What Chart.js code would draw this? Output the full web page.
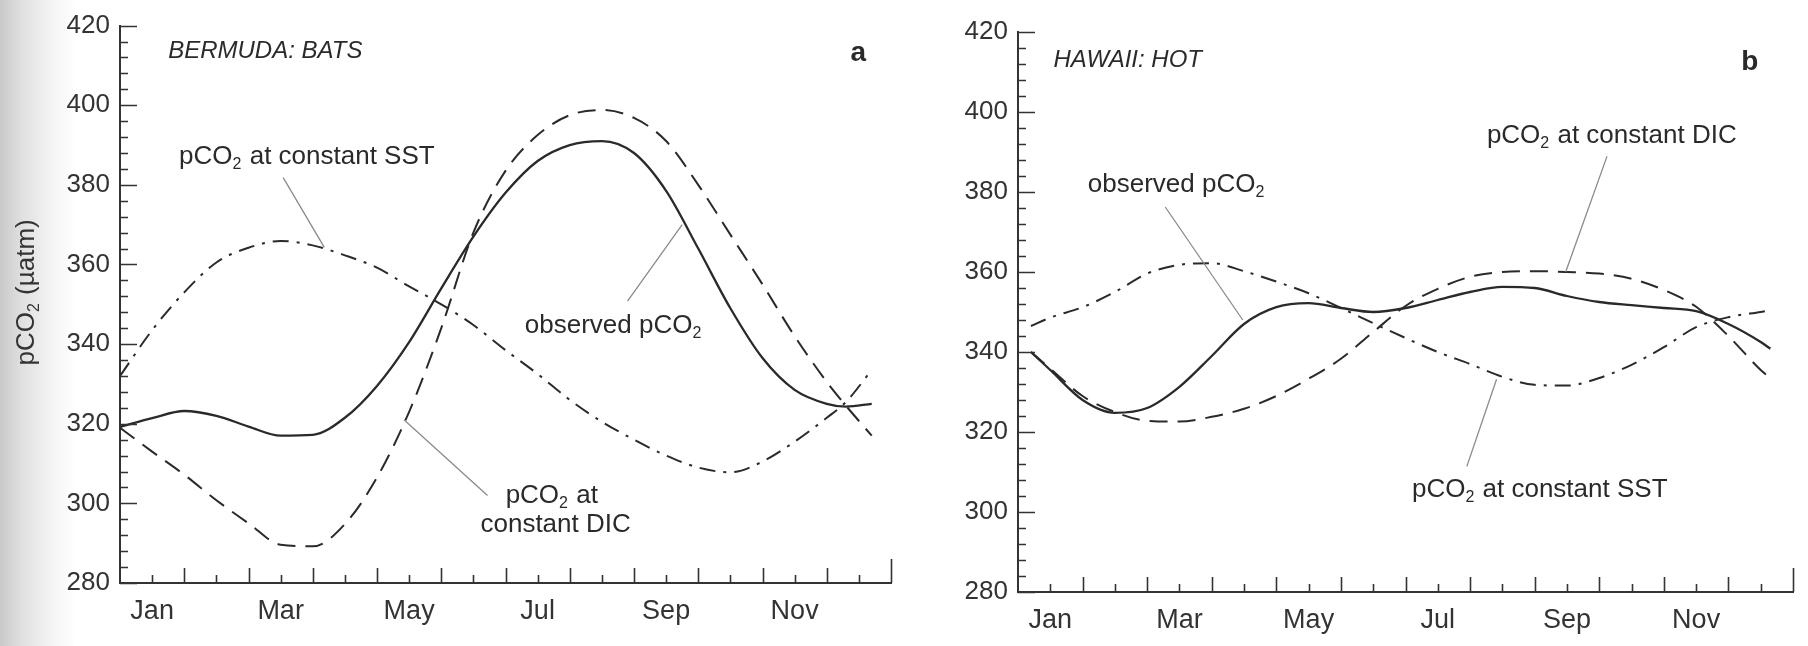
<!DOCTYPE html>
<html>
<head>
<meta charset="utf-8">
<script src="https://cdn.jsdelivr.net/npm/chart.js@4.4.1/dist/chart.umd.min.js"></script>
<style>
  html, body { margin: 0; padding: 0; }
  body {
    width: 1808px; height: 646px; overflow: hidden; position: relative;
    background: linear-gradient(to right, #c9c9c9 0px, #e0e0e0 22px, #f3f3f3 50px, #ffffff 76px);
  }
  canvas { position: absolute; top: 0; }
  #batsChart { left: 0; }
  #hotChart { left: 905px; }
</style>
</head>
<body>
<canvas id="batsChart" width="905" height="646"></canvas>
<canvas id="hotChart" width="903" height="646"></canvas>
<script>
// x is in months since 1 Jan (0 = 1 Jan, 12 = 1 Jan next year)
var monthLabels = ['Jan', 'Mar', 'May', 'Jul', 'Sep', 'Nov'];
var monthLabelPos = [0.5, 2.5, 4.5, 6.5, 8.5, 10.5];

// panel a, Bermuda (BATS)
var batsMonths   = [0, 0.5, 1, 1.5, 2, 2.5, 3, 3.5, 4, 4.5, 5, 5.5, 6, 6.5, 7, 7.5, 8, 8.5, 9, 9.5, 10, 10.5, 11, 11.3, 11.7];
var batsObserved = [319.2, 321.4, 323.2, 322.0, 319.3, 317.0, 317.2, 321.5, 329.5, 340.5, 354, 367, 378, 386, 390, 391, 388, 378.5, 364, 349, 336.5, 328.5, 325, 324.3, 325];
var batsConstDIC = [319, 313, 307.2, 300.8, 295, 289.6, 289.2, 294.8, 306.5, 323, 344, 368, 383.5, 392.5, 397.5, 398.8, 396.8, 391, 380, 367.5, 355, 342, 330.5, 324.5, 317];
var batsConstSST = [332, 343.5, 353, 360.5, 364.2, 365.9, 364.8, 362.3, 359.2, 354.5, 350, 344.8, 338.5, 332.5, 326, 320.5, 316, 312, 309, 307.8, 310.5, 315.5, 321.5, 325.5, 333.5];

// panel b, Hawaii (HOT)
var hotMonths   = [0.2, 0.5, 1, 1.5, 2, 2.5, 3, 3.5, 4, 4.5, 5, 5.5, 6, 6.5, 7, 7.5, 8, 8.5, 9, 9.5, 10, 10.5, 11, 11.5, 11.65];
var hotObserved = [340, 335.5, 328, 324.8, 326, 331.3, 339, 347, 351.2, 352.2, 351, 350, 351, 353, 355, 356.3, 356, 354, 352.5, 351.7, 351, 350.2, 347, 342.5, 340.8];
var hotConstDIC = [340, 335.8, 329, 325, 322.8, 322.6, 323.8, 325.8, 329, 333.3, 338.3, 345, 351.5, 355.8, 358.8, 360, 360.2, 360, 359.6, 358.3, 355.5, 351.3, 344, 335.5, 333.5];
var hotConstSST = [346.5, 348.6, 351.2, 355, 359.6, 361.8, 362.2, 360.2, 357.6, 354.7, 351, 347.2, 343.5, 340, 337, 333.8, 331.8, 331.6, 333.5, 336.8, 341.2, 346.2, 348.7, 350, 350.4];

var FONT = '"Liberation Sans", Arial, sans-serif';
var INK = '#2a2a2a';

function points(xs, ys) {
    return xs.map(function (m, i) { return {x: m, y: ys[i]}; });
}

function datasets(xs, obs, dic, sst) {
    var common = {pointRadius: 0, fill: false, cubicInterpolationMode: 'monotone', borderColor: INK};
    return [
        Object.assign({data: points(xs, sst), borderWidth: 2, borderDash: [16, 8, 3, 8]}, common),
        Object.assign({data: points(xs, dic), borderWidth: 2, borderDash: [18, 10]}, common),
        Object.assign({data: points(xs, obs), borderWidth: 2.3}, common)
    ];
}

// inward tick marks, minor every 4 uatm / half month
var inwardTicks = {
    id: 'inwardTicks',
    afterDraw: function (chart) {
        var ctx = chart.ctx, area = chart.chartArea, x = chart.scales.x, y = chart.scales.y;
        ctx.save();
        ctx.strokeStyle = '#333';
        ctx.lineWidth = 1.6;
        ctx.beginPath();
        for (var v = 280; v <= 420; v += 4) {
            var py = Math.round(y.getPixelForValue(v)) + 0.5;
            ctx.moveTo(area.left, py);
            ctx.lineTo(area.left + (v % 20 === 0 ? 17 : 8), py);
        }
        for (var h = 1; h <= 24; h++) {
            var px = Math.round(x.getPixelForValue(h / 2)) + 0.5;
            var len = h === 24 ? 24 : (h % 2 === 0 ? 15 : 8);
            ctx.moveTo(px, area.bottom);
            ctx.lineTo(px, area.bottom - len);
        }
        ctx.stroke();
        ctx.restore();
    }
};

// text with "_2" drawn as a subscript; returns the width
function richText(ctx, str, x, y, size, dryRun) {
    var parts = str.split('_');
    var cx = x;
    parts.forEach(function (p, i) {
        if (i > 0) {
            ctx.font = Math.round(size * 0.62) + 'px ' + FONT;
            if (!dryRun) ctx.fillText(p.charAt(0), cx, y + size * 0.3);
            cx += ctx.measureText(p.charAt(0)).width + 1;
            p = p.slice(1);
        }
        ctx.font = size + 'px ' + FONT;
        if (!dryRun) ctx.fillText(p, cx, y);
        cx += ctx.measureText(p).width;
    });
    return cx - x;
}

function notesPlugin(cfg) {
    return {
        id: 'notes',
        afterDraw: function (chart) {
            var ctx = chart.ctx, x = chart.scales.x, y = chart.scales.y;
            ctx.save();
            ctx.strokeStyle = '#8a8a8a';
            ctx.lineWidth = 1.3;
            cfg.leaders.forEach(function (l) {
                ctx.beginPath();
                ctx.moveTo(x.getPixelForValue(l[0]), y.getPixelForValue(l[1]));
                ctx.lineTo(x.getPixelForValue(l[2]), y.getPixelForValue(l[3]));
                ctx.stroke();
            });
            ctx.fillStyle = INK;
            ctx.textBaseline = 'middle';
            ctx.textAlign = 'left';
            cfg.labels.forEach(function (t) {
                var px = x.getPixelForValue(t.x);
                if (t.center) px -= richText(ctx, t.text, 0, 0, 26, true) / 2;
                richText(ctx, t.text, px, y.getPixelForValue(t.y), 26);
            });
            if (cfg.yTitle) {
                ctx.save();
                ctx.fillStyle = '#333';
                ctx.translate(27, y.getPixelForValue(cfg.yTitle.y));
                ctx.rotate(-Math.PI / 2);
                var w = richText(ctx, cfg.yTitle.text, 0, 0, 26, true);
                richText(ctx, cfg.yTitle.text, -w / 2, 0, 26);
                ctx.restore();
            }
            ctx.font = 'italic 24px ' + FONT;
            ctx.fillText(cfg.site.text, x.getPixelForValue(cfg.site.x), y.getPixelForValue(cfg.site.y));
            ctx.font = 'bold 28px ' + FONT;
            ctx.textAlign = 'center';
            ctx.fillText(cfg.panel.text, x.getPixelForValue(cfg.panel.x), y.getPixelForValue(cfg.panel.y));
            ctx.restore();
        }
    };
}

function makeChart(id, ds, opt) {
    return new Chart(document.getElementById(id).getContext('2d'), {
        type: 'line',
        data: {datasets: ds},
        options: {
            responsive: false,
            animation: false,
            devicePixelRatio: 1,
            layout: {padding: {top: opt.top, right: opt.right, left: 0, bottom: 0}},
            plugins: {legend: {display: false}, tooltip: {enabled: false}},
            scales: {
                x: {
                    type: 'linear', min: 0, max: 12,
                    afterBuildTicks: function (a) {
                        a.ticks = monthLabelPos.map(function (v) { return {value: v}; });
                    },
                    ticks: {
                        autoSkip: false, maxRotation: 0, padding: 12, color: '#333',
                        font: {family: FONT, size: 27},
                        callback: function (v, i) { return monthLabels[i]; }
                    },
                    grid: {display: false, drawTicks: false},
                    border: {color: '#333', width: 2},
                    afterFit: function (s) { s.height = opt.xHeight; }
                },
                y: {
                    min: 280, max: 420,
                    ticks: {stepSize: 20, padding: 10, color: '#333', font: {family: FONT, size: 26}},
                    grid: {display: false, drawTicks: false},
                    border: {color: '#333', width: 2},
                    afterFit: function (s) { s.width = opt.yWidth; }
                }
            }
        },
        plugins: [inwardTicks, notesPlugin(opt.notes)]
    });
}

makeChart('batsChart', datasets(batsMonths, batsObserved, batsConstDIC, batsConstSST), {
    top: 25, right: 14, yWidth: 120, xHeight: 63,
    notes: {
        yTitle: {text: 'pCO_2 (\u00b5atm)', y: 353},
        site: {text: 'BERMUDA: BATS', x: 0.75, y: 413.5},
        panel: {text: 'a', x: 11.49, y: 413},
        labels: [
            {text: 'pCO_2 at constant SST', x: 0.92, y: 387},
            {text: 'observed pCO_2', x: 6.3, y: 344.6},
            {text: 'pCO_2 at', x: 6.72, y: 302, center: true},
            {text: 'constant DIC', x: 6.78, y: 294.5, center: true}
        ],
        leaders: [[2.54, 381.8, 3.18, 364.3], [7.9, 350.8, 8.75, 370], [5.72, 302, 4.42, 321]]
    }
});

makeChart('hotChart', datasets(hotMonths, hotObserved, hotConstDIC, hotConstSST), {
    top: 32, right: 15, yWidth: 113, xHeight: 54,
    notes: {
        site: {text: 'HAWAII: HOT', x: 0.55, y: 413},
        panel: {text: 'b', x: 11.33, y: 412.5},
        labels: [
            {text: 'observed pCO_2', x: 1.08, y: 381.75},
            {text: 'pCO_2 at constant DIC', x: 7.26, y: 394},
            {text: 'pCO_2 at constant SST', x: 6.1, y: 305.6}
        ],
        leaders: [[2.28, 376.25, 3.48, 348], [9.12, 388.9, 8.48, 360], [6.95, 311.4, 7.41, 333.2]]
    }
});
</script>
</body>
</html>
